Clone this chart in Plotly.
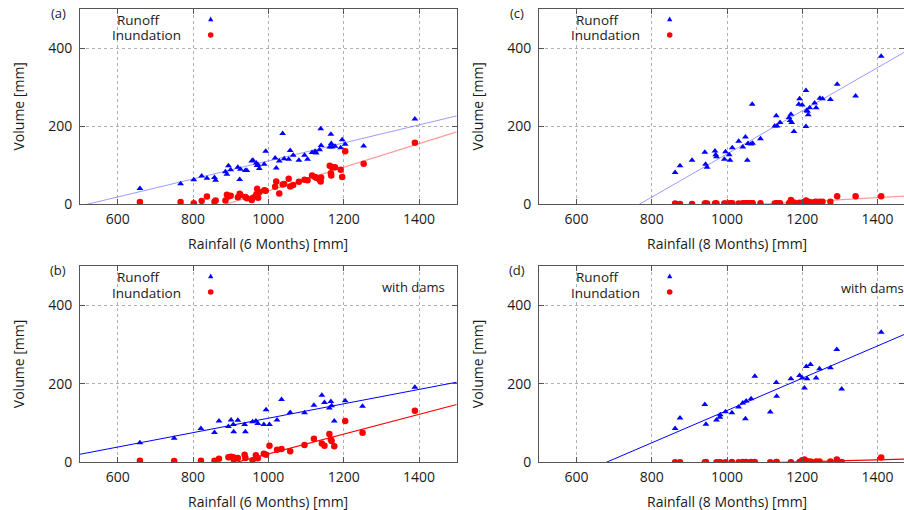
import plotly.graph_objects as go

# ---------------- data ----------------
# (a) 6-month rainfall, no dams
rain_a = [659, 767, 802, 823, 837, 857, 860, 886, 890, 894, 900, 919, 924, 926, 939, 943,
          956, 959, 968, 970, 973, 976, 989, 993, 1018, 1021, 1029, 1038, 1042, 1054, 1058,
          1066, 1081, 1096, 1104, 1116, 1124, 1127, 1136, 1139, 1140, 1163, 1166, 1167, 1169,
          1177, 1192, 1196, 1204, 1253, 1389]
runoff_a = [40, 52, 62, 72, 66, 68, 61, 83, 76, 98, 88, 94, 63, 89, 86, 86,
            110, 112, 105, 99, 100, 91, 102, 135, 118, 92, 110, 181, 116, 115, 137,
            125, 112, 125, 115, 132, 135, 131, 139, 193, 150, 146, 179, 155, 146,
            148, 144, 165, 153, 149, 218]
inund_a = [5, 5, 2, 8, 19, 6, 9, 9, 24, 19, 21, 17, 26, 23, 18, 15,
           10, 16, 25, 39, 16, 30, 35, 34, 44, 58, 27, 50, 51, 65, 45,
           49, 57, 62, 61, 73, 69, 67, 62, 58, 68, 98, 79, 73, 94,
           94, 88, 69, 135, 103, 157]

# (b) 6-month rainfall, with dams
rain_b = [659, 750, 821, 857, 869, 894, 901, 907, 908, 919, 937, 939, 958, 967, 972, 988,
          994, 1003, 1023, 1035, 1058, 1096, 1121, 1142, 1149, 1162, 1166, 1168, 1175,
          1204, 1250, 1389]
runoff_b = [50, 61, 86, 76, 105, 91, 108, 96, 78, 107, 96, 78, 103, 105, 99, 96,
            134, 96, 108, 160, 127, 126, 145, 171, 152, 138, 155, 144, 105,
            157, 143, 191]
inund_b = [4, 3, 4, 4, 9, 13, 14, 13, 7, 11, 19, 11, 5, 18, 10, 22,
           19, 42, 32, 34, 28, 44, 60, 48, 42, 72, 58, 54, 41,
           105, 75, 131]

# (c) 8-month rainfall, no dams
rain_c = [862, 875, 907, 941, 943, 947, 968, 970, 972, 993, 996, 1006, 1008, 1014, 1031,
          1042, 1049, 1054, 1056, 1064, 1067, 1068, 1089, 1127, 1131, 1133, 1141, 1165,
          1168, 1170, 1172, 1178, 1191, 1193, 1200, 1210, 1210, 1212, 1214, 1216, 1220,
          1233, 1237, 1247, 1254, 1275, 1293, 1342, 1410]
runoff_c = [81, 98, 112, 133, 102, 94, 136, 126, 121, 115, 134, 126, 112, 144, 161,
            146, 172, 112, 155, 154, 256, 156, 167, 200, 226, 200, 209, 222,
            214, 230, 209, 186, 256, 270, 254, 291, 199, 240, 238, 229, 247,
            259, 247, 271, 270, 268, 307, 277, 379]
inund_c = [1, 0, 0, 1, 1, 1, 1, 1, 1, 1, 1, 1, 2, 2, 1,
           2, 2, 2, 2, 2, 2, 2, 2, 1, 1, 2, 2, 2,
           3, 10, 3, 4, 2, 3, 3, 9, 5, 4, 6, 3, 5,
           5, 6, 6, 6, 6, 20, 20, 20]

# (d) 8-month rainfall, with dams
rain_d = [862, 875, 941, 944, 972, 981, 982, 996, 1013, 1031, 1042, 1049, 1051, 1064, 1074,
          1115, 1131, 1132, 1170, 1193, 1200, 1206, 1211, 1213, 1222, 1237, 1246, 1275,
          1292, 1305, 1410]
runoff_d = [86, 113, 147, 97, 108, 115, 121, 129, 126, 141, 151, 111, 156, 162, 219,
            128, 203, 168, 213, 221, 215, 189, 244, 213, 249, 215, 238, 241,
            287, 187, 331]
inund_d = [0, 0, 0, 1, 0, 0, 0, 0, 1, 0, 1, 0, 1, 1, 1,
           0, 1, 1, 0, 1, 5, 7, 3, 2, 2, 2, 2, 2,
           7, 1, 12]

# fitted trend lines (slope, intercept)
fit_runoff = {"a": (0.231, -120.6), "b": (0.1835, -71.25), "c": (0.553, -424.7), "d": (0.411, -279.1)}
fit_inund = {"a": (0.303, -269.4), "b": (0.252, -230.8), "c": (0.055, -60.5), "d": (0.026, -29.9)}
line_x = [500, 1500]

x_ticks = [600, 800, 1000, 1200, 1400]
y_ticks = [0, 200, 400]
panel_labels = {"a": "(a)", "b": "(b)", "c": "(c)", "d": "(d)"}
x_titles = {"a": "Rainfall (6 Months) [mm]", "b": "Rainfall (6 Months) [mm]",
            "c": "Rainfall (8 Months) [mm]", "d": "Rainfall (8 Months) [mm]"}
y_title = "Volume [mm]"
legend_names = ["Runoff", "Inundation"]
dams_note = "with dams"

# ---------------- layout helpers ----------------
W, H = 904, 510
FONT = "Open Sans"
FS = 14
TXT = "#1a1a1a"


def px(x):
    return x / W


def py(y):
    return 1 - y / H


def note(text, x, y, size=FS, angle=0):
    return dict(text=text, x=px(x), y=py(y), xref="paper", yref="paper",
                xanchor="center", yanchor="middle", textangle=angle,
                showarrow=False, font=dict(family=FONT, size=size, color=TXT))


panels = {
    "a": dict(rain=rain_a, ro=runoff_a, inu=inund_a, ax="", dom_x=(80, 456.7), dom_y=(9, 204), xr=(500, 1500), light=True),
    "b": dict(rain=rain_b, ro=runoff_b, inu=inund_b, ax="2", dom_x=(80, 456.7), dom_y=(266, 462.3), xr=(500, 1500), light=False),
    "c": dict(rain=rain_c, ro=runoff_c, inu=inund_c, ax="3", dom_x=(539, 904), dom_y=(9, 204), xr=(500, 1470.7), light=True),
    "d": dict(rain=rain_d, ro=runoff_d, inu=inund_d, ax="4", dom_x=(539, 904), dom_y=(266, 462.3), xr=(500, 1470.7), light=False),
}

fig = go.Figure()
annotations = []
shapes = []

for key, p in panels.items():
    xa = "x" + p["ax"]
    ya = "y" + p["ax"]
    blue_line = "rgba(90,90,255,0.6)" if p["light"] else "#0000ff"
    red_line = "rgba(255,90,90,0.6)" if p["light"] else "#ff0000"
    sr, ir = fit_runoff[key]
    si, ii = fit_inund[key]
    fig.add_trace(go.Scatter(x=line_x, y=[sr * v + ir for v in line_x], mode="lines",
                             line=dict(color=blue_line, width=1), xaxis=xa, yaxis=ya,
                             showlegend=False, hoverinfo="skip"))
    fig.add_trace(go.Scatter(x=line_x, y=[si * v + ii for v in line_x], mode="lines",
                             line=dict(color=red_line, width=1.2), xaxis=xa, yaxis=ya,
                             showlegend=False, hoverinfo="skip"))
    fig.add_trace(go.Scatter(x=p["rain"], y=p["ro"], mode="markers", name="Runoff",
                             marker=dict(symbol="triangle-up", size=6, color="#0000ff", line=dict(width=0)),
                             xaxis=xa, yaxis=ya, showlegend=False))
    fig.add_trace(go.Scatter(x=p["rain"], y=p["inu"], mode="markers", name="Inundation",
                             marker=dict(symbol="circle", size=6.5, color="#ff0000", line=dict(width=0)),
                             xaxis=xa, yaxis=ya, showlegend=False))

    axis_common = dict(showline=True, linecolor="#555555", linewidth=1, mirror="ticks",
                       ticks="inside", ticklen=5, tickcolor="#555555", automargin=False,
                       showgrid=True, gridcolor="#b0b0b0", griddash="dot", gridwidth=1,
                       zeroline=False, tickfont=dict(family=FONT, size=FS, color=TXT))
    fig.update_layout({
        "xaxis" + p["ax"]: dict(axis_common, domain=[px(p["dom_x"][0]), px(p["dom_x"][1])],
                               range=list(p["xr"]), tickvals=x_ticks, anchor=ya, ticklabelstandoff=2),
        "yaxis" + p["ax"]: dict(axis_common, domain=[py(p["dom_y"][1]), py(p["dom_y"][0])],
                               range=[0, 500], tickvals=y_ticks, anchor=xa, ticklabelstandoff=4),
    })

    left = p["dom_x"][0]
    top = p["dom_y"][0]
    bottom = p["dom_y"][1]
    annotations.append(note(panel_labels[key], left - 22, top + 4, size=FS - 1))
    annotations.append(note(legend_names[0], left + 58.7, top + 11, size=13.5))
    annotations.append(note(legend_names[1], left + 66, top + 26.5, size=13.5))
    mx = left + 130.7
    my1 = top + 10
    my2 = top + 26
    shapes.append(dict(type="path", xref="paper", yref="paper",
                       path=f"M {px(mx-2.6)} {py(my1+2.2)} L {px(mx+2.6)} {py(my1+2.2)} L {px(mx)} {py(my1-2.4)} Z",
                       fillcolor="#0000ff", line=dict(width=0)))
    shapes.append(dict(type="circle", xref="paper", yref="paper",
                       x0=px(mx - 2.8), x1=px(mx + 2.8), y0=py(my2 + 2.8), y1=py(my2 - 2.8),
                       fillcolor="#ff0000", line=dict(width=0)))
    annotations.append(note(y_title, left - 62, (top + bottom) / 2, angle=-90))
    annotations.append(note(x_titles[key], left + 188.3, bottom + 39))

annotations.append(note(dams_note, 413, 287, size=FS - 1))
annotations.append(note(dams_note, 872, 288, size=FS - 1))

fig.update_layout(width=W, height=H, margin=dict(l=0, r=0, t=0, b=0),
                  paper_bgcolor="white", plot_bgcolor="white",
                  annotations=annotations, shapes=shapes, showlegend=False,
                  font=dict(family=FONT, size=FS))

fig.write_html("out.html", config={"displayModeBar": False},
               post_script="document.body.style.margin='0';")
